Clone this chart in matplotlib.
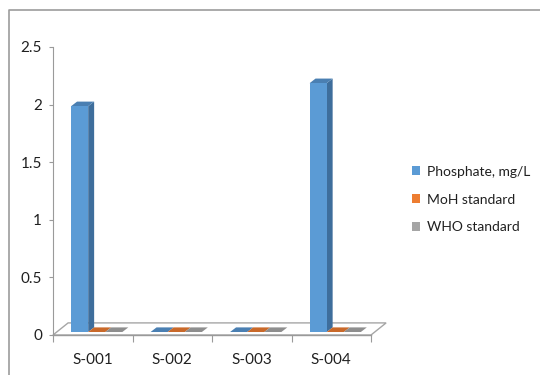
import numpy as np
import matplotlib.pyplot as plt
from matplotlib.patches import Polygon, Patch
from matplotlib.lines import Line2D

plt.rcParams['font.family'] = ['Lato', 'DejaVu Sans']

samples = ['S-001', 'S-002', 'S-003', 'S-004']
series = ['Phosphate, mg/L', 'MoH standard', 'WHO standard']
phosphate = [1.96, 0.0, 0.0, 2.16]
moh = [0.0, 0.0, 0.0, 0.0]
who = [0.0, 0.0, 0.0, 0.0]

front = ['#5B9BD5', '#ED7D31', '#A5A5A5']
side = ['#3E6E9C', '#B25D24', '#7B7B7B']
top = ['#4A7FB2', '#C9692A', '#8E8E8E']

# fake depth, in data units (x: categories, y: value)
FLOOR_DX, FLOOR_DY = 0.19, 0.105
BAR_DX, BAR_DY = 0.075, 0.04
BASE_DX, BASE_DY = 0.05, 0.026
BAR_W = 0.215

fig = plt.figure(figsize=(5.4, 3.75), dpi=100)
ax = fig.add_axes([53 / 540, 40 / 375, 318 / 540, 288 / 375])
ax.set_xlim(0, 4)
ax.set_ylim(0, 2.5)
for s in ['top', 'right', 'bottom']:
    ax.spines[s].set_visible(False)
ax.spines['left'].set_color('#9A9A9A')
ax.patch.set_alpha(0)

grey = '#A6A6A6'
# floor
floor = Polygon([(0, 0), (4, 0), (4 + FLOOR_DX, FLOOR_DY), (FLOOR_DX, FLOOR_DY)],
                closed=True, facecolor='white', edgecolor=grey, lw=1.0,
                clip_on=False, zorder=1)
ax.add_patch(floor)
ax.plot([0, 4], [0, 0], color='#9A9A9A', lw=1.0, clip_on=False, zorder=2)

data = [phosphate, moh, who]
for c in range(len(samples)):
    x0 = c + 0.5 - 1.5 * BAR_W + BASE_DX
    for k, vals in enumerate(data):
        v = vals[c]
        l = x0 + k * BAR_W
        r = l + BAR_W
        b = BASE_DY
        t = BASE_DY + v
        z = 3 + c * 3 + k
        if v > 0:
            ax.add_patch(Polygon([(r, b), (r + BAR_DX, b + BAR_DY),
                                  (r + BAR_DX, t + BAR_DY), (r, t)],
                                 facecolor=side[k], edgecolor='none',
                                 clip_on=False, zorder=z))
        ax.add_patch(Polygon([(l, t), (r, t), (r + BAR_DX, t + BAR_DY),
                              (l + BAR_DX, t + BAR_DY)],
                             facecolor=top[k], edgecolor='none',
                             clip_on=False, zorder=z))
        ax.bar(l, v, width=BAR_W, bottom=b, align='edge', color=front[k],
               edgecolor='none', zorder=z)

ax.set_yticks(np.arange(0, 2.51, 0.5))
ax.set_yticklabels(['0', '0.5', '1', '1.5', '2', '2.5'])
ax.set_xticks(range(5))
ax.set_xticklabels([])
ax.set_xticks(np.arange(4) + 0.5, minor=True)
ax.set_xticklabels(samples, minor=True)
ax.tick_params(axis='y', length=3, color='#9A9A9A', labelsize=11,
               pad=5, labelcolor='#202020')
ax.tick_params(axis='x', which='major', length=5, color='#9A9A9A',
               direction='out')
ax.tick_params(axis='x', which='minor', length=0, labelsize=11,
               pad=13, labelcolor='#202020')

handles = [Patch(facecolor=front[k], edgecolor='none') for k in range(3)]
fig.legend(handles, series, loc='center left', bbox_to_anchor=(0.74, 0.468),
           frameon=False, fontsize=10, handlelength=0.6, handleheight=0.6,
           handletextpad=0.5, labelspacing=1.15, labelcolor='#202020')

# chart frame (top and left edge)
fig.add_artist(Line2D([9 / 540, 9 / 540, 1], [0, 1 - 10 / 375, 1 - 10 / 375],
                      color='#9C9C9C', lw=1.2))

fig.savefig('out.png', dpi=100)
